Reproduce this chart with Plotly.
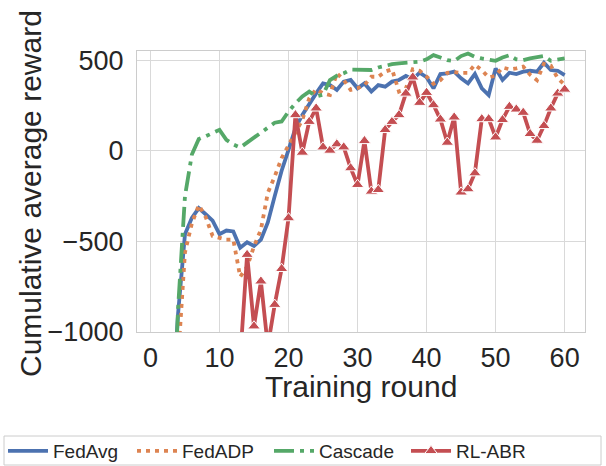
import plotly.graph_objects as go

rounds = list(range(1, 61))

fedavg = [-2500, -2000, -1500, -900, -460, -370, -316, -350, -385, -460,
          -440, -445, -535, -505, -525, -490, -395, -250, -110, 5,
          125, 198, 262, 317, 372, 363, 336, 382, 391, 345,
          372, 327, 363, 354, 382, 391, 413, 395, 431, 406,
          345, 424, 428, 437, 400, 372, 424, 345, 308, 455,
          391, 431, 424, 437, 442, 437, 486, 446, 442, 418]

fedadp = [-2600, -2100, -1700, -1150, -560, -400, -300, -365, -470, -480,
          -490, -490, -695, -640, -527, -435, -232, -142, -40, 30,
          97, 171, 290, 340, 317, 308, 428, 391, 336, 345,
          363, 409, 409, 437, 450, 327, 345, 450, 442, 410,
          370, 390, 430, 435, 430, 430, 475, 445, 405, 415,
          460, 450, 455, 465, 420, 390, 480, 470, 400, 365]

cascade = [-2800, -2300, -1800, -870, -250, -20, 65, 80, 97, 116,
           61, 35, 18, 45, 75, 100, 125, 155, 162, 217,
           262, 300, 327, 300, 310, 390, 415, 428, 448, 446,
           446, 446, 460, 470, 478, 483, 486, 486, 492, 505,
           528, 515, 500, 495, 523, 537, 519, 510, 505, 497,
           515, 528, 505, 500, 510, 515, 523, 497, 505, 510]

rlabr = [-3000, -2600, -2200, -1900, -1600, -1400, -1030, -1500, -1700, -1600,
         -1500, -1400, -1150, -573, -968, -720, -1080, -849, -651, -371,
         198, -9, 161, 235, 20, 2, 37, 20, -95, -187,
         55, -224, -215, 116, 161, 198, 317, 406, 266, 321,
         253, 174, 46, 185, -229, -211, -123, 176, 176, 75,
         171, 244, 229, 211, 94, 57, 138, 235, 317, 339]

names = ["FedAvg", "FedADP", "Cascade", "RL-ABR"]
colors = ["#4c72b0", "#dd8452", "#55a868", "#c44e52"]
x_ticks = [0, 10, 20, 30, 40, 50, 60]
y_ticks = [-1000, -500, 0, 500]
x_title = "Training round"
y_title = "Cumulative average reward"

W, H = 606, 466
L, R, T, B = 137, 21, 51, 134
pw, ph = W - L - R, H - T - B

def px2x(p):
    return (p - L) / pw

def py2y(p):
    return (H - B - p) / ph

legend_ids = ["legend", "legend2", "legend3", "legend4"]
legend_px = [3, 132, 269, 406]

fig = go.Figure()
fig.add_trace(go.Scatter(x=rounds, y=fedavg, name=names[0], mode="lines", legend=legend_ids[0],
                         line=dict(color=colors[0], width=3.8)))
fig.add_trace(go.Scatter(x=rounds, y=fedadp, name=names[1], mode="lines", legend=legend_ids[1],
                         line=dict(color=colors[1], width=3.8, dash="4px,5px")))
fig.add_trace(go.Scatter(x=rounds, y=cascade, name=names[2], mode="lines", legend=legend_ids[2],
                         line=dict(color=colors[2], width=3.8, dash="20px,6px,4px,6px")))
fig.add_trace(go.Scatter(x=rounds, y=rlabr, name=names[3], mode="lines+markers", legend=legend_ids[3],
                         line=dict(color=colors[3], width=3.8),
                         marker=dict(symbol="triangle-up", size=11, color=colors[3],
                                     line=dict(color="white", width=1))))

fig.add_shape(type="rect", xref="paper", yref="paper",
              x0=px2x(4), x1=px2x(601), y0=py2y(465), y1=py2y(436),
              line=dict(color="#cccccc", width=1), fillcolor="rgba(0,0,0,0)", layer="above")

legends = {}
for lid, lx in zip(legend_ids, legend_px):
    legends[lid] = dict(orientation="h", x=px2x(lx), y=py2y(432), xanchor="left", yanchor="top",
                        font=dict(size=19, color="#262626"), bgcolor="rgba(0,0,0,0)",
                        borderwidth=0, itemwidth=40)

fig.add_annotation(text=x_title, xref="paper", yref="paper", x=0.5, y=py2y(386),
                   xanchor="center", yanchor="middle", showarrow=False,
                   font=dict(size=30, color="#262626"))
fig.add_annotation(text=y_title, xref="paper", yref="paper", x=px2x(30), y=py2y(194),
                   xanchor="center", yanchor="middle", showarrow=False, textangle=-90,
                   font=dict(size=30, color="#262626"))

fig.update_layout(
    width=W, height=H,
    margin=dict(l=L, r=R, t=T, b=B, autoexpand=False),
    plot_bgcolor="white", paper_bgcolor="white",
    font=dict(family="Liberation Sans, Arial, sans-serif", color="#262626"),
    showlegend=True,
    xaxis=dict(range=[-1.95, 62.95], tickvals=x_ticks, showgrid=True, gridcolor="#d9d9d9",
               gridwidth=1.3, zeroline=False, showline=True, linecolor="#cccccc", mirror=True,
               linewidth=1.3, ticks="", tickfont=dict(size=27), ticklabelstandoff=1),
    yaxis=dict(range=[-1000, 551], tickvals=y_ticks, showgrid=True, gridcolor="#d9d9d9",
               gridwidth=1.3, zeroline=False, showline=True, linecolor="#cccccc", mirror=True,
               linewidth=1.3, ticks="", tickfont=dict(size=27), ticklabelstandoff=7),
    **legends,
)

fig.write_html("out.html", config={"displayModeBar": False},
               post_script="document.body.style.margin='0';")
